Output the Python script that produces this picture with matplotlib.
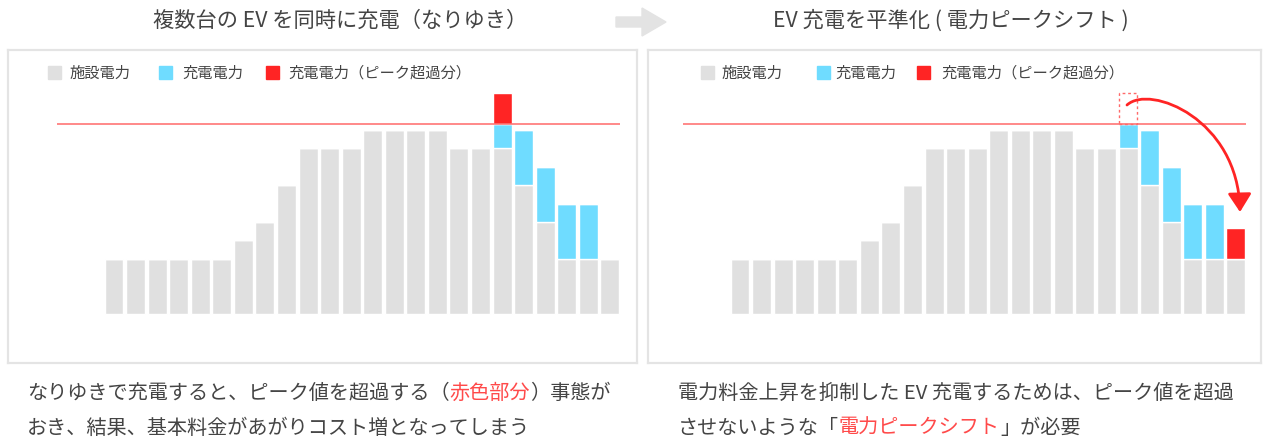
import matplotlib
matplotlib.use("Agg")
import matplotlib.pyplot as plt
from matplotlib.patches import Polygon, Rectangle, FancyArrowPatch
from matplotlib.path import Path

plt.rcParams["font.family"] = ["Noto Sans CJK JP", "DejaVu Sans"]

# data (arbitrary power units per hour slot)
hours = list(range(24))
facility = [3, 3, 3, 3, 3, 3, 4, 5, 7, 9, 9, 9, 10, 10, 10, 10, 9, 9, 9, 7, 5, 3, 3, 3]
charging = [0] * 18 + [1.3, 3, 3, 3, 3, 0]
excess_before = [0] * 18 + [1.7, 0, 0, 0, 0, 0]
excess_after = [0] * 23 + [1.7]
peak = 10.3
shift_from, shift_to = 18, 23

legend_labels = ["施設電力", "充電電力", "充電電力（ピーク超過分）"]
titles = ["複数台の EV を同時に充電（なりゆき）", "EV 充電を平準化 ( 電力ピークシフト )"]

GRAY = "#e0e0e0"
CYAN = "#6fdcff"
RED = "#ff2424"
LINE_RED = "#ff6a6a"
TXT = "#444444"
TXT_RED = "#ff4a4a"

W, H = 1265, 439
fig = plt.figure(figsize=(W / 100, H / 100), dpi=100)


def fx(px):
    return px / W


def fy(py):
    return 1 - py / H


PITCH = 21.56
UNIT = 18.4
BASE = 315
TOP, BOTTOM = 51, 364


def panel(left, right, c0):
    ax = fig.add_axes([fx(left), fy(BOTTOM), (right - left) / W, (BOTTOM - TOP) / H])
    ax.set_xlim((left - c0) / PITCH, (right - c0) / PITCH)
    ax.set_ylim(-(BOTTOM - BASE) / UNIT, (BASE - TOP) / UNIT)
    ax.set_xticks([])
    ax.set_yticks([])
    for s in ax.spines.values():
        s.set_color("#e4e4e4")
        s.set_linewidth(1.6)
    return ax


def draw_bars(ax, excess):
    bottoms = [f + c for f, c in zip(facility, charging)]
    ax.bar(hours, facility, width=0.88, color=GRAY, edgecolor="white", linewidth=1)
    ax.bar(hours, charging, bottom=facility, width=0.88, color=CYAN, edgecolor="white", linewidth=1)
    ax.bar(hours, excess, bottom=bottoms, width=0.88, color=RED, edgecolor="white", linewidth=1)
    ax.hlines(peak, -2.64, 23.47, color=LINE_RED, linewidth=1.1, zorder=3)


def legend(xs, text_xs, y=73):
    for x, tx, c, lab in zip(xs, text_xs, [GRAY, CYAN, RED], legend_labels):
        fig.add_artist(Rectangle((fx(x), fy(y + 6.5)), 13 / W, 13 / H, color=c,
                                 transform=fig.transFigure))
        fig.text(fx(tx), fy(y), lab, fontsize=11, color=TXT, va="center", ha="left")


ax1 = panel(8, 637, 114)
draw_bars(ax1, excess_before)
legend([48, 159, 266], [70, 182, 288])

ax2 = panel(648, 1261, 740)
draw_bars(ax2, excess_after)
legend([701, 817, 917], [722, 835, 941])

# dashed outline where the excess used to be
ax2.bar(hours[shift_from], excess_before[shift_from], bottom=peak, width=0.84, fill=False,
        edgecolor=LINE_RED, linewidth=1, linestyle=(0, (2, 2)))


def p2d(px, py):
    # pixel position in the right panel -> data coords
    return ((px - 740) / PITCH, (BASE - py) / UNIT)


curve = Path([p2d(1127, 106), p2d(1150, 85), p2d(1238, 120), p2d(1240, 213)],
             [Path.MOVETO, Path.CURVE4, Path.CURVE4, Path.CURVE4])
arrow = FancyArrowPatch(path=curve, arrowstyle="-|>,head_length=0.7,head_width=0.45",
                        mutation_scale=16, color=RED, linewidth=2, zorder=5)
ax2.add_patch(arrow)

# titles and the gray arrow between them
fig.text(fx(340), fy(21), titles[0], fontsize=15.3, color=TXT, ha="center", va="center")
fig.text(fx(951), fy(21), titles[1], fontsize=15.3, color=TXT, ha="center", va="center")
pts = [(616, 18), (642, 18), (642, 9), (666, 23), (642, 37), (642, 28), (616, 28)]
fig.add_artist(Polygon([(fx(x), fy(y)) for x, y in pts], closed=True, color="#e3e3e3",
                       transform=fig.transFigure))


def chain(x, y, parts, size=14.5):
    t = fig.text(fx(x), fy(y), parts[0][0], color=parts[0][1], fontsize=size,
                 ha="left", va="baseline")
    for s, c in parts[1:]:
        t = plt.annotate(s, xy=(1, 0), xycoords=t, color=c, fontsize=size,
                         ha="left", va="bottom", annotation_clip=False)
    return t


chain(27, 399, [("なりゆきで充電すると、ピーク値を超過する（", TXT), ("赤色部分", TXT_RED),
                ("）事態が", TXT)])
chain(27, 434, [("おき、結果、基本料金があがりコスト増となってしまう", TXT)])
chain(678, 399, [("電力料金上昇を抑制した EV 充電するためは、ピーク値を超過", TXT)])
chain(678, 434, [("させないような「", TXT), ("電力ピークシフト", TXT_RED), ("」が必要", TXT)])

fig.savefig("out.png", dpi=100, facecolor="white")
